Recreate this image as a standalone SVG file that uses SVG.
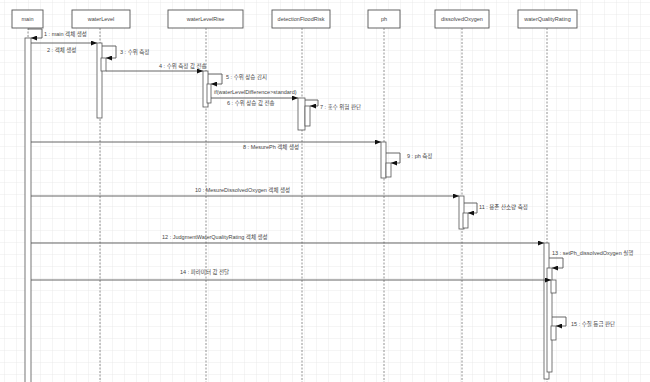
<svg xmlns="http://www.w3.org/2000/svg" width="650" height="382" viewBox="0 0 650 382">
<defs>
<pattern id="grid" width="12" height="12" patternUnits="userSpaceOnUse" x="4" y="2">
<path d="M12 0H0V12" fill="none" stroke="#e6e6e6" stroke-width="0.8"/>
</pattern>
<marker id="ah" markerWidth="6" markerHeight="5" refX="6" refY="2.5" orient="auto" markerUnits="userSpaceOnUse">
<path d="M0,0 L6,2.5 L0,5 Z" fill="#111"/>
</marker>
<style>
.box{fill:#fff;stroke:#555;stroke-width:0.9}
.life{stroke:#777;stroke-width:0.8;stroke-dasharray:2,1.5;fill:none}
.bar{fill:#fff;stroke:#555;stroke-width:0.8}
.msg{stroke:#555;stroke-width:0.9;fill:none;marker-end:url(#ah)}
.t{font-family:"Liberation Sans","Noto Sans CJK KR",sans-serif;font-size:5.5px;fill:#444}
.hc{text-anchor:middle}
</style>
</defs>
<rect width="650" height="382" fill="#fff"/>
<rect width="650" height="382" fill="url(#grid)"/>

<g id="main">
<rect class="box" x="12" y="10" width="31" height="18"/>
<text class="t hc" x="27.5" y="21">main</text>
<line class="life" x1="28" y1="28" x2="28" y2="38"/>
</g>
<g id="waterLevel">
<rect class="box" x="72" y="10" width="58" height="18"/>
<text class="t hc" x="101" y="21">waterLevel</text>
<line class="life" x1="100" y1="28" x2="100" y2="382"/>
</g>
<g id="waterLevelRise">
<rect class="box" x="168" y="10" width="75" height="18"/>
<text class="t hc" x="205.5" y="21">waterLevelRise</text>
<line class="life" x1="206" y1="28" x2="206" y2="382"/>
</g>
<g id="detectionFloodRisk">
<rect class="box" x="272" y="10" width="58" height="18"/>
<text class="t hc" x="301" y="21">detectionFloodRisk</text>
<line class="life" x1="302" y1="28" x2="302" y2="382"/>
</g>
<g id="ph">
<rect class="box" x="368" y="10" width="32" height="18"/>
<text class="t hc" x="384" y="21">ph</text>
<line class="life" x1="384" y1="28" x2="384" y2="382"/>
</g>
<g id="dissolvedOxygen">
<rect class="box" x="435" y="10" width="54" height="18"/>
<text class="t hc" x="462" y="21">dissolvedOxygen</text>
<line class="life" x1="462" y1="28" x2="462" y2="382"/>
</g>
<g id="waterQualityRating">
<rect class="box" x="518" y="10" width="59" height="18"/>
<text class="t hc" x="547.5" y="21">waterQualityRating</text>
<line class="life" x1="547" y1="28" x2="547" y2="382"/>
</g>

<g id="activations">
<rect class="bar" x="25" y="38" width="6" height="346"/>
<rect class="bar" x="97" y="43" width="5" height="75"/>
<rect class="bar" x="101" y="58" width="5" height="13"/>
<rect class="bar" x="203" y="71" width="5" height="36"/>
<rect class="bar" x="207" y="84" width="4" height="19"/>
<rect class="bar" x="298" y="98" width="7" height="32"/>
<rect class="bar" x="305" y="106" width="5" height="20"/>
<rect class="bar" x="381" y="142" width="5" height="36"/>
<rect class="bar" x="386" y="163" width="5" height="14"/>
<rect class="bar" x="459" y="196" width="5" height="33"/>
<rect class="bar" x="463" y="213" width="5" height="15"/>
<rect class="bar" x="544" y="243" width="5" height="136"/>
<rect class="bar" x="547" y="268" width="5" height="104"/>
<rect class="bar" x="551" y="280" width="5" height="13"/>
<rect class="bar" x="551" y="326" width="5" height="14"/>
</g>

<g id="connectors">
<path class="msg" d="M28,29 H42 V38 H31"/>
<path class="msg" d="M31,43 H97"/>
<path class="msg" d="M102,46 H116 V58 H106"/>
<path class="msg" d="M106,71 H203"/>
<path class="msg" d="M208,74 H222 V84 H211"/>
<path class="msg" d="M211,98 H298"/>
<path class="msg" d="M305,100 H318 V106 H310"/>
<path class="msg" d="M31,142 H381"/>
<path class="msg" d="M386,153 H400 V163 H391"/>
<path class="msg" d="M31,196 H459"/>
<path class="msg" d="M464,203 H477 V213 H468"/>
<path class="msg" d="M31,243 H544"/>
<path class="msg" d="M549,258 H563 V268 H552"/>
<path class="msg" d="M31,280 H551"/>
<path class="msg" d="M552,317 H566 V326 H556"/>
</g>

<g id="labels">
<text class="t" x="44" y="36">1 : main 객체 생성</text>
<text class="t" x="47" y="52">2 : 객체 생성</text>
<text class="t" x="120" y="54">3 : 수위 측정</text>
<text class="t" x="159" y="68">4 : 수위 측정 값 전송</text>
<text class="t" x="226" y="79">5 : 수위 상승 감지</text>
<text class="t" x="214" y="94">if(waterLevelDifference&gt;standard)</text>
<text class="t" x="227" y="105">6 : 수위 상승 값 전송</text>
<text class="t" x="320" y="109">7 : 홍수 위험 판단</text>
<text class="t" x="243" y="149">8 : MesurePh 객체 생성</text>
<text class="t" x="407" y="158">9 : ph 측정</text>
<text class="t" x="195" y="192">10 : MesureDissolvedOxygen 객체 생성</text>
<text class="t" x="479" y="209">11 : 용존 산소량 측정</text>
<text class="t" x="162" y="239">12 : JudgmentWaterQualityRating 객체 생성</text>
<text class="t" x="552" y="255">13 : setPh_dissolvedOxygen 실행</text>
<text class="t" x="180" y="274">14 : 파라미터 값 전달</text>
<text class="t" x="571" y="326">15 : 수질 등급 판단</text>
</g>
</svg>
